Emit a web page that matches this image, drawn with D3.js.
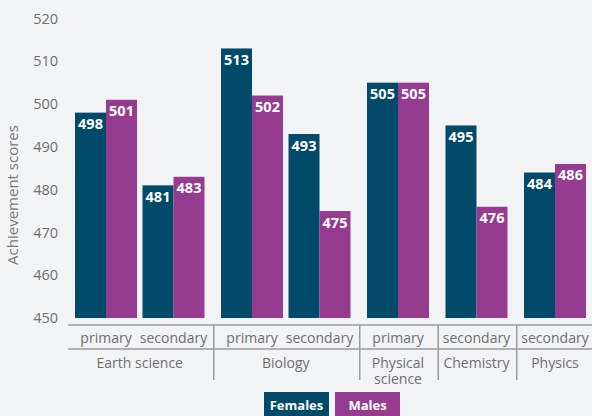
<!DOCTYPE html>
<html>
<head>
<meta charset="utf-8">
<script src="https://cdn.jsdelivr.net/npm/d3@7"></script>
<style>
	body { margin: 0; background: #f2f3f5; }
	svg { display: block; font-family: "Open Sans", sans-serif; }
</style>
</head>
<body>
<div id="chart"></div>
<script>
/* global d3 */

var subjects = ["Earth science", "Earth science", "Biology", "Biology", "Physical science", "Chemistry", "Physics"];
var levels = ["primary", "secondary", "primary", "secondary", "primary", "secondary", "secondary"];
var groups = ["Earth science", "Biology", "Physical science", "Chemistry", "Physics"];
var females = [498, 481, 513, 493, 505, 495, 484];
var males = [501, 483, 502, 475, 505, 476, 486];
var yTicks = [450, 460, 470, 480, 490, 500, 510, 520];
var seriesNames = ["Females", "Males"];

var width = 592,
	height = 416,
	barW = 31,
	gapRatio = 0.163,
	colors = ["#024a69", "#963c90"],
	axisY = 325;

// slot position: index plus extra space between subject groups
function pos(i) {
	return i + groups.indexOf(subjects[i]) * gapRatio;
}

var xScale = d3.scaleLinear()
	.domain([pos(0), pos(subjects.length - 1)])
	.range([106, 555]);

var yScale = d3.scaleLinear()
	.domain([450, 520])
	.range([318, 18.5]);

var svg = d3.select("#chart").append("svg")
	.attr("width", width)
	.attr("height", height);

svg.append("rect")
	.attr("width", width)
	.attr("height", height)
	.attr("fill", "#f2f3f5");

// y axis labels
var yAxis = svg.append("g")
	.attr("transform", "translate(58,0)")
	.call(d3.axisLeft(yScale).tickValues(yTicks).tickSize(0).tickPadding(0));
yAxis.select(".domain").remove();
yAxis.selectAll("text")
	.attr("fill", "#6d6e70")
	.attr("font-size", "14.5px")
	.attr("font-family", "Open Sans, sans-serif");

svg.append("text")
	.attr("transform", "translate(18,195) rotate(-90)")
	.attr("text-anchor", "middle")
	.attr("fill", "#77787b")
	.attr("font-size", "15px")
	.text("Achievement scores");

// bars
var data = subjects.map(function(s, i) {
	return {i: i, vals: [females[i], males[i]]};
});

var slot = svg.append("g").selectAll("g")
	.data(data)
	.enter().append("g")
	.attr("transform", function(d) { return "translate(" + (xScale(pos(d.i)) - barW) + ",0)"; });

var bar = slot.selectAll("g")
	.data(function(d) { return d.vals; })
	.enter().append("g");

bar.append("rect")
	.attr("x", function(d, k) { return k * barW; })
	.attr("y", function(d) { return yScale(d); })
	.attr("width", barW)
	.attr("height", function(d) { return yScale(450) - yScale(d); })
	.attr("fill", function(d, k) { return colors[k]; });

bar.append("text")
	.attr("x", function(d, k) { return k * barW + barW / 2; })
	.attr("y", function(d) { return yScale(d) + 16.5; })
	.attr("text-anchor", "middle")
	.attr("fill", "#fff")
	.attr("font-weight", "bold")
	.attr("font-size", "14.5px")
	.text(function(d) { return d; });

// category axis
var axis = svg.append("g").attr("stroke", "#9a9b9d").attr("stroke-width", 1.5);
axis.append("line")
	.attr("x1", 68).attr("x2", width)
	.attr("y1", axisY).attr("y2", axisY);
axis.append("line")
	.attr("x1", 68).attr("x2", width)
	.attr("y1", 349).attr("y2", 349);

var seps = [];
for (var i = 1; i < subjects.length; i++) {
	if (subjects[i] !== subjects[i - 1]) seps.push((xScale(pos(i)) + xScale(pos(i - 1))) / 2 + 1);
}
axis.selectAll(".sep")
	.data(seps)
	.enter().append("line")
	.attr("x1", function(d) { return d; })
	.attr("x2", function(d) { return d; })
	.attr("y1", axisY)
	.attr("y2", 380);

svg.append("g").selectAll("text")
	.data(levels)
	.enter().append("text")
	.attr("x", function(d, i) { return xScale(pos(i)); })
	.attr("y", 343)
	.attr("text-anchor", "middle")
	.attr("fill", "#6d6e70")
	.attr("font-size", "14px")
	.text(function(d) { return d; });

var groupLabels = svg.append("g").selectAll("text")
	.data(groups)
	.enter().append("text")
	.attr("x", function(g) {
		var idx = subjects.map(function(s, i) { return s === g ? xScale(pos(i)) : null; })
			.filter(function(v) { return v !== null; });
		return d3.mean(idx);
	})
	.attr("y", 368)
	.attr("text-anchor", "middle")
	.attr("fill", "#6d6e70")
	.attr("font-size", "14px");

groupLabels.each(function(g) {
	var words = g === "Physical science" ? ["Physical", "science"] : [g];
	var t = d3.select(this);
	words.forEach(function(w, k) {
		t.append("tspan")
			.attr("x", t.attr("x"))
			.attr("dy", k ? 15.5 : 0)
			.text(w);
	});
});

// legend
var legend = svg.append("g").selectAll("g")
	.data(seriesNames)
	.enter().append("g")
	.attr("transform", function(d, k) { return "translate(" + (264 + k * 71) + ",392)"; });

legend.append("rect")
	.attr("width", 65)
	.attr("height", 24)
	.attr("fill", function(d, k) { return colors[k]; });

legend.append("text")
	.attr("x", 32.5)
	.attr("y", 18)
	.attr("text-anchor", "middle")
	.attr("fill", "#fff")
	.attr("font-weight", "bold")
	.attr("font-size", "13px")
	.text(function(d) { return d; });
</script>
</body>
</html>
